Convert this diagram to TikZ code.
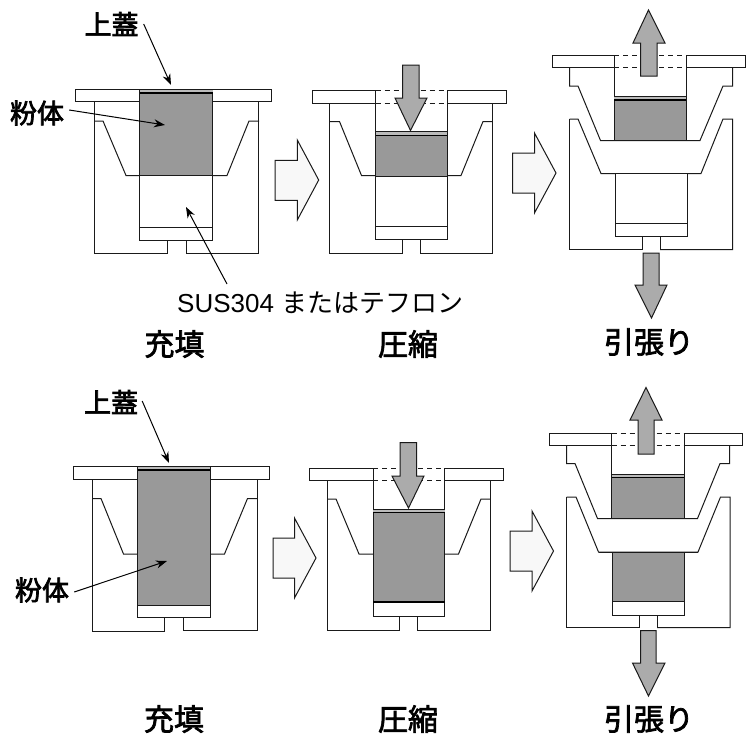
\documentclass[tikz,border=0pt]{standalone}
\usepackage{fontspec}
\usetikzlibrary{arrows.meta}
\setmainfont{Liberation Sans}
\newfontfamily\jpfont{Noto Sans CJK JP}
\newcommand{\stoutjp}[1]{\special{pdf:code q 2 Tr 0.7 w}#1\special{pdf:code Q}}
\definecolor{powder}{HTML}{999999}
\definecolor{capgray}{HTML}{BBBBBB}
\definecolor{forcegray}{HTML}{ABABAB}
\definecolor{stepfill}{HTML}{F8F8F8}
\definecolor{ink}{HTML}{1A1A1A}
\tikzset{
  part/.style={draw=ink,line width=1pt,fill=white,line join=miter},
  wire/.style={draw=ink,line width=1pt},
  powderfill/.style={fill=powder,draw=ink,line width=1pt},
  heavy/.style={draw=black,line width=1.3pt},
  dashline/.style={draw=ink,line width=1pt,dash pattern=on 5pt off 4pt},
  force/.style={fill=forcegray,draw=ink,line width=1pt,line join=miter},
  stepblock/.style={fill=stepfill,draw=ink,line width=1pt,line join=miter},
  title/.style={font=\jpfont\fontsize{30}{30}\selectfont,inner sep=0pt},
  callout/.style={font=\jpfont\fontsize{27}{27}\selectfont,inner sep=0pt},
  pointer/.style={draw=black,line width=1pt,-{Stealth[length=11pt,width=8pt]}}
}
\begin{document}
\begin{tikzpicture}[x=1pt,y=-1pt]
\useasboundingbox (0,0) rectangle (756,745);
% ===== top row, panel 1
\draw[part] (94.5,101.5) -- (94.5,253.5) -- (167.5,253.5) -- (167.5,240) -- (186,240) -- (186,253) -- (258.5,253) -- (258.5,101.5);
\draw[wire] (94.5,121) -- (103,121) -- (126,175.5) -- (227,175.5) -- (249,121) -- (259,121);
\draw[part] (75.5,89) rectangle (139.5,101.5);
\draw[part] (212.5,89) rectangle (271.5,101.5);
\draw[part] (139.5,89) rectangle (212.5,240);
\fill[capgray] (139.5,89) rectangle (212.5,93);
\draw[powderfill] (139.5,93) rectangle (212.5,175.5);
\draw[heavy] (139.5,93) -- (212.5,93);
\draw[wire] (139.5,89) -- (212.5,89);
\draw[wire] (139.5,227) -- (212.5,227);
% ===== top row, panel 2
\draw[part] (329.5,103) -- (329.5,253) -- (402.5,253) -- (402.5,239) -- (420,239) -- (420,253) -- (492.5,253) -- (492.5,103);
\draw[wire] (329.5,121.5) -- (339.5,121.5) -- (361.5,175.5) -- (461,175.5) -- (483,121.5) -- (492.5,121.5);
\draw[part] (312.5,90.5) rectangle (375.5,103);
\draw[part] (447,90.5) rectangle (506,103);
\draw[dashline] (375.5,90.5) -- (447,90.5);
\draw[dashline] (375.5,103) -- (447,103);
\fill[white] (375.5,103.5) rectangle (447,239);
\draw[wire] (375.5,103) -- (375.5,239) -- (447,239) -- (447,103);
\fill[capgray] (375.5,131.5) rectangle (447,135.5);
\draw[wire] (375.5,131.5) -- (447,131.5);
\draw[powderfill] (375.5,135.5) rectangle (447,176);
\draw[heavy] (375.5,135.5) -- (447,135.5);
\draw[wire] (375.5,226.5) -- (447,226.5);
\draw[force] (402.5,65) -- (419,65) -- (419,98) -- (427,98) -- (410.5,130.5) -- (395,98) -- (402.5,98) -- cycle;
% ===== top row, panel 3
\draw[part] (569.5,67.5) -- (569.5,86) -- (578,86) -- (600.5,140.5) -- (700,140.5) -- (723,86) -- (732.5,86) -- (732.5,67.5);
\draw[part] (569.5,119) -- (578,119) -- (601,173.5) -- (701,173.5) -- (723,119) -- (732.5,119) -- (732.5,249.5) -- (660,249.5);
\draw[wire] (642,249.5) -- (569.5,249.5) -- (569.5,119);
\draw[wire] (642,236.5) -- (642,249.5);
\draw[wire] (660,236.5) -- (660,249.5);
\draw[part] (615,173.5) rectangle (687,236.5);
\draw[wire] (615,223) -- (687,223);
\draw[part] (552,55.5) rectangle (614,67.5);
\draw[part] (686,55.5) rectangle (745,67.5);
\draw[dashline] (614,55.5) -- (686,55.5);
\draw[dashline] (614,67.5) -- (686,67.5);
\fill[white] (614,68) rectangle (686,140);
\draw[wire] (614,67.5) -- (614,140.5);
\draw[wire] (686,67.5) -- (686,140.5);
\fill[capgray] (614,96.5) rectangle (686,100);
\draw[wire] (614,96.5) -- (686,96.5);
\draw[powderfill] (614,100) rectangle (686,140.5);
\draw[heavy] (614,100) -- (686,100);
\draw[force] (640.5,76) -- (640.5,43) -- (633,43) -- (648.5,10) -- (665,43) -- (657,43) -- (657,76) -- cycle;
\draw[force] (643,253) -- (659,253) -- (659,285) -- (667,285) -- (651.5,318) -- (635,285) -- (643,285) -- cycle;
% ===== top row transition arrows
\draw[stepblock] (275,160.3) -- (297.3,160.3) -- (297.3,140) -- (318.7,180) -- (297.3,220) -- (297.3,200.3) -- (275,200.3) -- cycle;
\draw[stepblock] (512.5,153) -- (534.5,153) -- (534.5,133) -- (556,173) -- (534.5,213) -- (534.5,193) -- (512.5,193) -- cycle;
% ===== top row labels
\node[callout] (lidA) at (111.5,24) {\stoutjp{上蓋}};
\node[callout] (powderA) at (37,113) {\stoutjp{粉体}};
\node[inner sep=0pt,font=\fontsize{26}{26}\selectfont,anchor=west] (susA) at (177,303) {SUS304 {\jpfont またはテフロン}};
\coordinate (lidAtip) at (171,85);
\coordinate (powderAtip) at (165,125);
\coordinate (susAtip) at (186,207);
\coordinate (susAtail) at (227,284);
\draw[pointer] ([xshift=5pt]lidA.east) -- (lidAtip);
\draw[pointer] ([xshift=5pt,yshift=3pt]powderA.east) -- (powderAtip);
\draw[pointer] (susAtail) -- (susAtip);
\node[title] (fillA) at (174.5,344) {\stoutjp{充填}};
\node[title] (compA) at (408,344) {\stoutjp{圧縮}};
\node[title] (pullA) at (649,342) {\stoutjp{引張り}};
% ===== bottom row, panel 1
\draw[part] (92.5,479) -- (92.5,631) -- (164.5,631) -- (164.5,617) -- (183.5,617) -- (183.5,630.5) -- (257,630.5) -- (257,479);
\draw[wire] (92.5,498.5) -- (101,498.5) -- (123.5,554) -- (137.5,554);
\draw[wire] (210,554) -- (224.5,554) -- (247.5,498.5) -- (257,498.5);
\draw[part] (73,466.5) rectangle (137.5,479);
\draw[part] (210,466.5) rectangle (269,479);
\draw[part] (137.5,466.5) rectangle (210,617);
\fill[capgray] (137.5,466.5) rectangle (210,470);
\draw[powderfill] (137.5,470) rectangle (210,605);
\draw[heavy] (137.5,470) -- (210,470);
\draw[wire] (137.5,466.5) -- (210,466.5);
% ===== bottom row, panel 2
\draw[part] (327.5,480.5) -- (327.5,630.5) -- (399.5,630.5) -- (399.5,616.5) -- (417.5,616.5) -- (417.5,630.5) -- (490.5,630.5) -- (490.5,480.5);
\draw[wire] (327.5,499) -- (336,499) -- (359,554) -- (373,554);
\draw[wire] (444.5,554) -- (458.5,554) -- (481,499) -- (490.5,499);
\draw[part] (309.5,468) rectangle (373,480.5);
\draw[part] (444.5,468) rectangle (503,480.5);
\draw[dashline] (373,468) -- (444.5,468);
\draw[dashline] (373,480.5) -- (444.5,480.5);
\fill[white] (373,481) rectangle (444.5,616.5);
\draw[wire] (373,480.5) -- (373,616.5) -- (444.5,616.5) -- (444.5,480.5);
\fill[capgray] (373,509) rectangle (444.5,512.5);
\draw[wire] (373,509) -- (444.5,509);
\draw[powderfill] (373,512.5) rectangle (444.5,602);
\draw[heavy] (373,512.5) -- (444.5,512.5);
\draw[heavy] (373,602) -- (444.5,602);
\draw[force] (400,442.5) -- (416.5,442.5) -- (416.5,476) -- (424,476) -- (408.5,508) -- (392,476) -- (400,476) -- cycle;
% ===== bottom row, panel 3
\draw[part] (566.5,445) -- (566.5,463.5) -- (575,463.5) -- (597.5,518.5) -- (697.5,518.5) -- (720,463.5) -- (729.5,463.5) -- (729.5,445);
\draw[part] (566.5,497) -- (576,497) -- (598.5,552) -- (698,552) -- (720.5,497) -- (730,497) -- (730,627.5) -- (657,627.5);
\draw[wire] (639,627.5) -- (566.5,627.5) -- (566.5,497);
\draw[wire] (639,615.5) -- (639,627.5);
\draw[wire] (657,615.5) -- (657,627.5);
\draw[part] (612.5,552) rectangle (684,615.5);
\draw[powderfill] (612.5,552) rectangle (684,601);
\draw[wire] (598.5,552) -- (698,552);
\draw[part] (549,433) rectangle (611.5,445);
\draw[part] (684,433) rectangle (742.5,445);
\draw[dashline] (611.5,433) -- (684,433);
\draw[dashline] (611.5,445) -- (684,445);
\fill[white] (611.5,445.5) rectangle (684,518);
\draw[wire] (611.5,445) -- (611.5,518.5);
\draw[wire] (684,445) -- (684,518.5);
\fill[capgray] (611.5,474) rectangle (684,477.5);
\draw[wire] (611.5,474) -- (684,474);
\draw[powderfill] (611.5,477.5) rectangle (684,518.5);
\draw[heavy] (611.5,477.5) -- (684,477.5);
\draw[force] (638,454) -- (638,420) -- (630,420) -- (646,387.5) -- (662,420) -- (654,420) -- (654,454) -- cycle;
\draw[force] (640.5,630.5) -- (656,630.5) -- (656,663) -- (665,663) -- (648.5,696) -- (632.5,663) -- (640.5,663) -- cycle;
% ===== bottom row transition arrows
\draw[stepblock] (273,538) -- (294.5,538) -- (294.5,518) -- (316,558) -- (294.5,598) -- (294.5,578) -- (273,578) -- cycle;
\draw[stepblock] (510,531) -- (532,531) -- (532,511) -- (553.5,551) -- (532,591) -- (532,571) -- (510,571) -- cycle;
% ===== bottom row labels
\node[callout] (lidB) at (111,402) {\stoutjp{上蓋}};
\node[callout] (powderB) at (42,590) {\stoutjp{粉体}};
\coordinate (lidBtip) at (169,463);
\coordinate (powderBtip) at (167,561);
\draw[pointer] ([xshift=4pt,yshift=1pt]lidB.east) -- (lidBtip);
\draw[pointer] ([xshift=5pt,yshift=-2pt]powderB.east) -- (powderBtip);
\node[title] (fillB) at (174,719) {\stoutjp{充填}};
\node[title] (compB) at (408,719) {\stoutjp{圧縮}};
\node[title] (pullB) at (649,719) {\stoutjp{引張り}};
\end{tikzpicture}
\end{document}
